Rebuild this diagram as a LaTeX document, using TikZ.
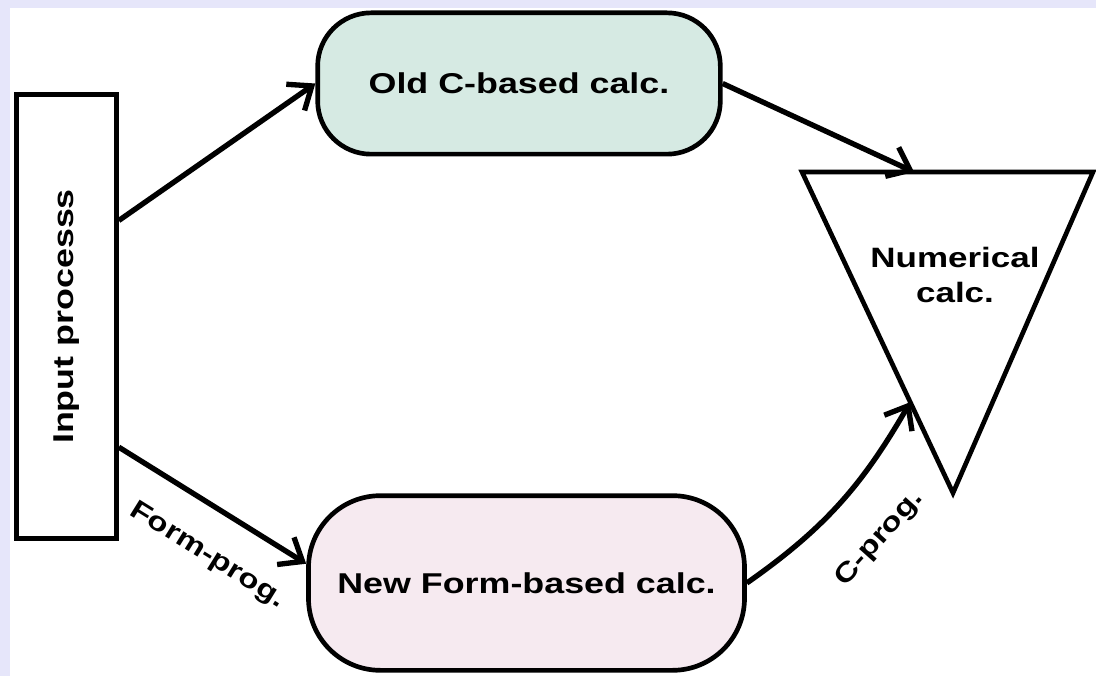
\documentclass[tikz,border=0pt]{standalone}
\usepackage{fontspec}
\usetikzlibrary{arrows.meta,calc}
\newfontfamily\diagfont{Liberation Sans}[FakeStretch=1.25]
\definecolor{lavbg}{RGB}{230,230,250}
\definecolor{oldfill}{RGB}{214,234,227}
\definecolor{newfill}{RGB}{246,234,240}

\begin{document}
\begin{tikzpicture}[
  x=0.75pt,y=0.75pt,
  every node/.style={font=\diagfont\bfseries\fontsize{21.5}{26}\selectfont},
  calcbox/.style={draw,line width=3.5pt,align=center},
  arr/.style={-{Straight Barb[length=15pt,width=24pt]},line width=4pt},
  lbl/.style={font=\diagfont\bfseries\fontsize{20}{24}\selectfont,inner sep=1pt},
]
  % background
  \fill[lavbg] (0,0) rectangle (1096,676);
  \fill[white] (10,0) rectangle (1096,668);
  \useasboundingbox (0,0) rectangle (1096,676);

  \node[calcbox,minimum width=333pt,minimum height=75pt,rotate=90] (inp) at (66.5,359.5) {Input processs};
  \node[calcbox,fill=oldfill,rounded corners=40pt,minimum width=302pt,minimum height=106pt] (old) at (519,592.5) {Old C-based calc.};
  \node[calcbox,fill=newfill,rounded corners=54pt,minimum width=327pt,minimum height=131pt] (new) at (526.5,93) {New Form-based calc.};

  % triangle
  \coordinate (tl) at (802,504);
  \coordinate (tr) at (1093,504);
  \coordinate (tb) at (953,183);
  \draw[line width=3.5pt] (tl) -- (tr) -- (tb) -- cycle;
  \node[align=center,font=\diagfont\bfseries\fontsize{21}{26}\selectfont] (num) at (955,401) {Numerical\\calc.};
  \coordinate (numtop) at ($(tl)!0.385!(tr)$);
  \coordinate (numside) at ($(tl)!0.717!(tb)$);

  \draw[arr] ([yshift=72pt]inp.south) -- (old.west);
  \draw[arr] (old.east) -- (numtop);
  \draw[arr] ([yshift=-98pt]inp.south) -- node[lbl,sloped,below=22pt,pos=0.6]{Form-prog.} (new.175);
  \draw[arr] (new.east) to[out=35,in=240] node[lbl,sloped,below=28pt,pos=0.5]{C-prog.} (numside);
\end{tikzpicture}
\end{document}
